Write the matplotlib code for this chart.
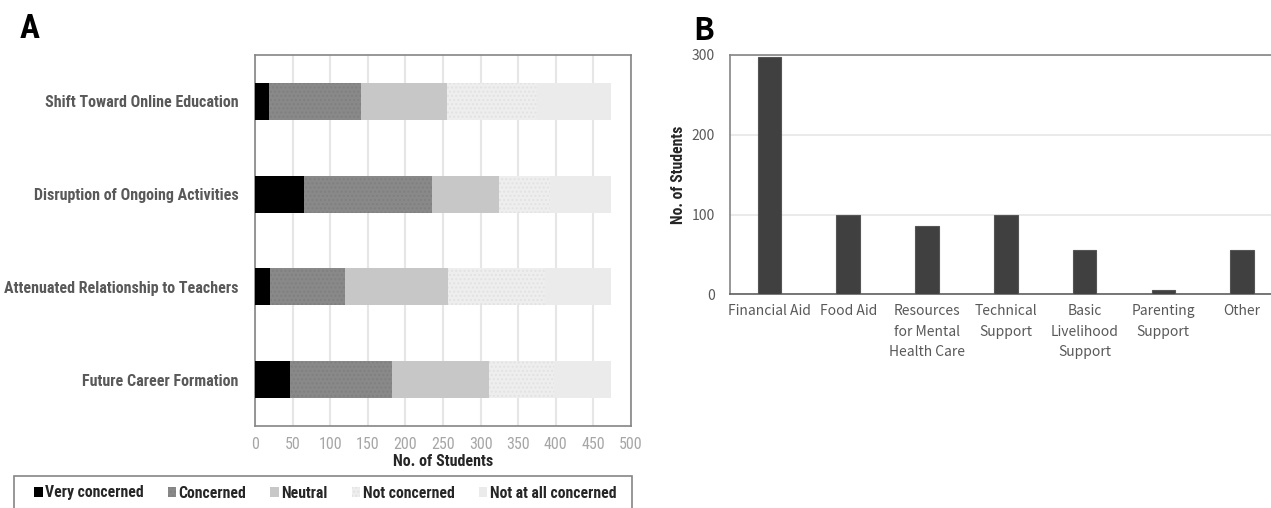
import matplotlib
matplotlib.use("Agg")
import matplotlib.pyplot as plt
from matplotlib import font_manager
from matplotlib.patches import Rectangle
import numpy as np

# Datos panel A
topics = ["Shift Toward Online Education", "Disruption of Ongoing Activities",
          "Attenuated Relationship to Teachers", "Future Career Formation"]
levels = ["Very concerned", "Concerned", "Neutral", "Not concerned", "Not at all concerned"]
very_concerned = [18, 65, 20, 46]
concerned = [123, 170, 100, 136]
neutral = [114, 90, 136, 129]
not_concerned = [120, 67, 129, 86]
not_at_all = [98, 81, 88, 76]

# Datos panel B
supports = ["Financial Aid", "Food Aid", "Resources\nfor Mental\nHealth Care",
            "Technical\nSupport", "Basic\nLivelihood\nSupport", "Parenting\nSupport", "Other"]
support_counts = [297, 100, 85, 100, 56, 6, 55]

names = {f.name for f in font_manager.fontManager.ttflist}
NARROW = "Liberation Sans"
for cand in ["Liberation Sans Narrow", "Roboto Condensed", "Noto Sans Condensed", "Liberation Sans"]:
    if cand in names:
        NARROW = cand
        break
JP = "Noto Sans CJK JP" if "Noto Sans CJK JP" in names else "DejaVu Sans"

W, H = 1271, 508
fig = plt.figure(figsize=(W / 100, H / 100), dpi=100)

# ---- Panel A ----
axA = fig.add_axes([255 / W, (H - 426) / H, 376 / W, 371 / H])
colors = ["#000000", "#898989", "#c7c7c7", "#eeeeee", "#ebebeb"]
hatches = [None, "....", None, "....", None]
hcolors = ["#000000", "#808080", "#c7c7c7", "#e2e2e2", "#ebebeb"]
series = [very_concerned, concerned, neutral, not_concerned, not_at_all]
y = np.arange(len(topics))
left = np.zeros(len(topics))
for vals, lab, c, h, hc in zip(series, levels, colors, hatches, hcolors):
    axA.barh(y, vals, left=left, height=0.4, color=c, label=lab,
             hatch=h, edgecolor=hc, linewidth=0, zorder=3)
    left += np.array(vals)

axA.set_xlim(0, 500)
axA.set_ylim(len(topics) - 0.5, -0.5)
axA.set_xticks(np.arange(0, 501, 50))
axA.set_yticks(y)
axA.set_yticklabels(topics, fontfamily=NARROW, fontweight="bold", fontsize=11.5, color="#595959")
axA.tick_params(axis="y", length=0, pad=12)
axA.tick_params(axis="x", length=0, pad=8, labelsize=11.5, labelcolor="#a6a6a6")
for t in axA.get_xticklabels():
    t.set_fontfamily(NARROW)
axA.grid(axis="x", color="#e6e6e6", linewidth=1.5, zorder=0)
for s in axA.spines.values():
    s.set_color("#858585")
    s.set_linewidth(1.2)
axA.set_xlabel("No. of Students", fontfamily=NARROW, fontweight="bold", fontsize=11.5,
               color="#262626", labelpad=1)

# cuadro de la leyenda (cortado abajo como en la figura original)
fig.patches.append(Rectangle((14 / W, -0.05), 618 / W, (H - 476) / H + 0.05,
                             transform=fig.transFigure, fill=False,
                             edgecolor="#858585", linewidth=1.2))
leg = axA.legend(loc="center left", bbox_to_anchor=(34 / W, (H - 493) / H, 582 / W, 0),
                 bbox_transform=fig.transFigure, mode="expand", ncol=5, frameon=False,
                 handlelength=0.55, handleheight=0.55, handletextpad=0.15,
                 borderpad=0, borderaxespad=0, columnspacing=1.0,
                 prop={"family": NARROW, "weight": "bold", "size": 11.3})
for t in leg.get_texts():
    t.set_color("#262626")

fig.text(20 / W, 1 - 29 / H, "A", fontsize=24, fontweight="bold", fontfamily=NARROW,
         va="center", ha="left")

# ---- Panel B ----
axB = fig.add_axes([730 / W, (H - 294.3) / H, 551.5 / W, 239.3 / H])
x = np.arange(len(supports))
axB.bar(x, support_counts, width=0.3, color="#404040", edgecolor="#555555", linewidth=0.8, zorder=3)
axB.set_xlim(-0.5, len(supports) - 0.5)
axB.set_ylim(0, 300)
axB.set_yticks([0, 100, 200, 300])
axB.set_xticks(x)
axB.set_xticklabels(supports, fontfamily=JP, fontsize=10, color="#595959", linespacing=1.6)
axB.tick_params(axis="both", length=0)
axB.tick_params(axis="x", pad=7)
axB.tick_params(axis="y", pad=11, labelsize=10, labelcolor="#595959")
for t in axB.get_yticklabels():
    t.set_fontfamily(JP)
axB.grid(axis="y", color="#e6e6e6", linewidth=1.2, zorder=0)
for s in axB.spines.values():
    s.set_color("#858585")
    s.set_linewidth(1.2)
axB.spines["bottom"].set_color("#606060")
axB.set_ylabel("No. of Students", fontfamily=NARROW, fontweight="bold", fontsize=11.3,
               color="#262626", labelpad=4)

fig.text(693 / W, 1 - 31 / H, "B", fontsize=22, fontweight="bold", fontfamily=JP,
         va="center", ha="left")

fig.savefig("out.png", dpi=100)
